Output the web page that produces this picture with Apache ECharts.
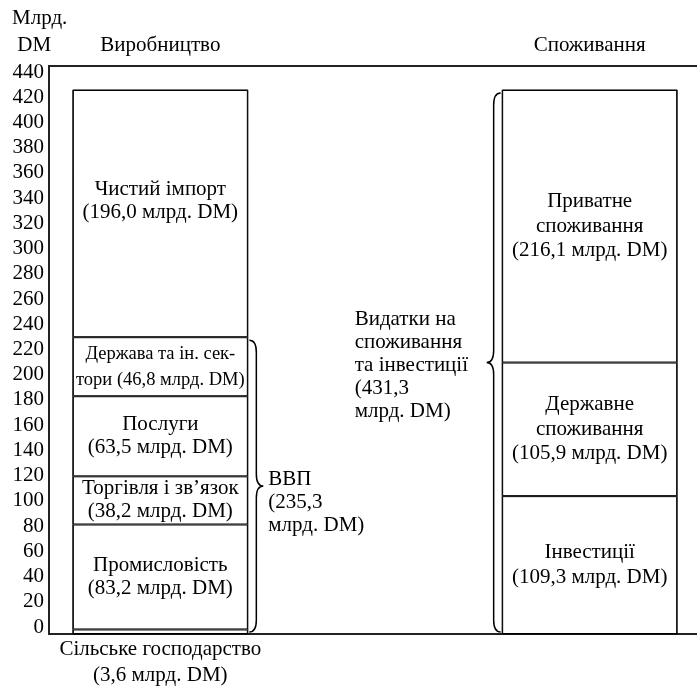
<!DOCTYPE html>
<html>
<head>
<meta charset="utf-8">
<script src="https://cdn.jsdelivr.net/npm/echarts@6/dist/echarts.min.js"></script>
<style>
  html, body { margin: 0; padding: 0; background: #fff; }
  #chart { width: 697px; height: 687px; }
</style>
</head>
<body>
<div id="chart"></div>
<script>
// Columns of the diagram
const columns = ['Виробництво', '', 'Споживання'];

// Production side (bottom to top), млрд. DM
const prodNames = ['Сільське господарство', 'Промисловість', 'Торгівля і зв’язок', 'Послуги', 'Держава та ін. сек-\nтори', 'Чистий імпорт'];
const prodValues = [3.6, 83.2, 38.2, 63.5, 46.8, 196.0];

// Use side (bottom to top), млрд. DM
const useNames = ['Інвестиції', 'Державне\nспоживання', 'Приватне\nспоживання'];
const useValues = [109.3, 105.9, 216.1];

// Axis ticks
const yMin = 0, yMax = 440, yStep = 20;

// Totals shown by the braces
const sum = arr => arr.reduce((a, b) => a + b, 0);
const gdp = sum(prodValues.slice(0, 5));
const prodTotal = sum(prodValues);
const total = sum(useValues);

const fmt = v => v.toFixed(1).replace('.', ',');
const FONT = 'Liberation Serif';
const FS = 21;
const GRID = { left: 53, right: -2, top: 79, bottom: 53 };
const W = 697, H = 687;
const BAR_W = 175;

const chart = echarts.init(document.getElementById('chart'), null, { renderer: 'canvas' });

// ECharts keeps the border inside each bar, so neighbouring segments add up to a 2px rule
const barStyle = { color: '#fff', borderColor: '#000', borderWidth: 1 };
const labelBase = { show: true, color: '#000', fontFamily: FONT, fontSize: FS, lineHeight: 23, align: 'center' };

const series = [];
prodNames.forEach((name, i) => {
  const data = [prodValues[i], '-', '-'];
  const sep = name.includes('\n') ? ' ' : '\n';
  const label = Object.assign({}, labelBase, {
    formatter: () => name + sep + '(' + fmt(prodValues[i]) + ' млрд. DM)'
  });
  if (i === 0) { label.position = 'bottom'; label.distance = 2; label.lineHeight = 26; }
  if (i === 4) { label.fontSize = 18.5; label.lineHeight = 26; }
  if (i === 5) { label.offset = [0, -13]; }
  series.push({ type: 'bar', name, stack: 'col', data, barWidth: BAR_W, itemStyle: barStyle, label, silent: true });
});
useNames.forEach((name, i) => {
  const data = ['-', '-', useValues[i]];
  const label = Object.assign({}, labelBase, {
    lineHeight: 24.5,
    formatter: () => name + '\n(' + fmt(useValues[i]) + ' млрд. DM)'
  });
  series.push({ type: 'bar', name, stack: 'col', data, barWidth: BAR_W, itemStyle: barStyle, label, silent: true });
});

// Outer outline of each whole column, thickening its edges to match the inner rules
series.push({
  type: 'custom',
  silent: true,
  data: [[0, prodTotal], [2, total]],
  renderItem: function (params, api) {
    const p0 = api.coord([api.value(0), 0]);
    const p1 = api.coord([api.value(0), api.value(1)]);
    return {
      type: 'rect',
      shape: { x: p0[0] - BAR_W / 2, y: p1[1], width: BAR_W, height: p0[1] - p1[1] },
      style: { fill: 'none', stroke: '#000', lineWidth: 1 },
      z2: 10
    };
  },
  z: 3
});

// Curly braces grouping the stacks: [column, from, to, side]
const braces = [
  [0, 0, gdp, 1, 'ВВП\n(' + fmt(gdp) + '\nмлрд. DM)'],
  [2, 0, total, -1, 'Видатки на\nспоживання\nта інвестиції\n(' + fmt(total) + '\nмлрд. DM)']
];

series.push({
  type: 'custom',
  silent: true,
  data: braces.map(b => b.slice(0, 4)),
  renderItem: function (params, api) {
    const b = braces[params.dataIndex];
    const pLo = api.coord([api.value(0), api.value(1)]);
    const pHi = api.coord([api.value(0), api.value(2)]);
    const s = api.value(3);
    const x0 = pLo[0] + s * (BAR_W / 2 + 1.5);
    const yTop = pHi[1] + 3, yBot = pLo[1] - 2;
    const yMid = (yTop + yBot) / 2;
    const w = 7, r = 12;
    const xb = x0 + s * w, xt = x0 + s * 2 * w;
    const d = 'M' + x0 + ' ' + yTop +
      ' Q' + xb + ' ' + yTop + ' ' + xb + ' ' + (yTop + r) +
      ' L' + xb + ' ' + (yMid - r) +
      ' Q' + xb + ' ' + yMid + ' ' + xt + ' ' + yMid +
      ' Q' + xb + ' ' + yMid + ' ' + xb + ' ' + (yMid + r) +
      ' L' + xb + ' ' + (yBot - r) +
      ' Q' + xb + ' ' + yBot + ' ' + x0 + ' ' + yBot;
    const tx = s > 0 ? xt + 5 : xt - 132;
    const ty = s > 0 ? yMid + 16 : yMid + 3;
    return {
      type: 'group',
      children: [
        { type: 'path', shape: { pathData: d }, style: { fill: 'none', stroke: '#000', lineWidth: 1.5 } },
        { type: 'text', x: tx, y: ty, style: { text: b[4], fill: '#000', font: FS + 'px "' + FONT + '"', lineHeight: 23, align: 'left', verticalAlign: 'middle' } }
      ]
    };
  }
});

const frameTop = GRID.top - 13, frameBot = H - GRID.bottom, frameLeft = GRID.left - 4;

chart.setOption({
  animation: false,
  backgroundColor: '#fff',
  grid: GRID,
  xAxis: {
    type: 'category',
    position: 'top',
    data: columns,
    axisLine: { show: false },
    axisTick: { show: false },
    axisLabel: { color: '#000', fontFamily: FONT, fontSize: FS, margin: 23 }
  },
  yAxis: {
    type: 'value',
    min: yMin, max: yMax, interval: yStep,
    axisLine: { show: false },
    axisTick: { show: false },
    splitLine: { show: false },
    axisLabel: { color: '#000', fontFamily: FONT, fontSize: FS, margin: 9, verticalAlign: 'bottom', lineHeight: 14 }
  },
  graphic: [
    {
      type: 'polyline', silent: true,
      shape: { points: [[W + 2, frameTop], [frameLeft, frameTop], [frameLeft, frameBot], [W + 2, frameBot]] },
      style: { fill: 'none', stroke: '#222', lineWidth: 2 }
    },
    {
      type: 'text', left: 12, top: 5, silent: true,
      style: { text: 'Млрд.\n DM', fill: '#000', font: FS + 'px "' + FONT + '"', lineHeight: 27 }
    }
  ],
  series
});
</script>
</body>
</html>
